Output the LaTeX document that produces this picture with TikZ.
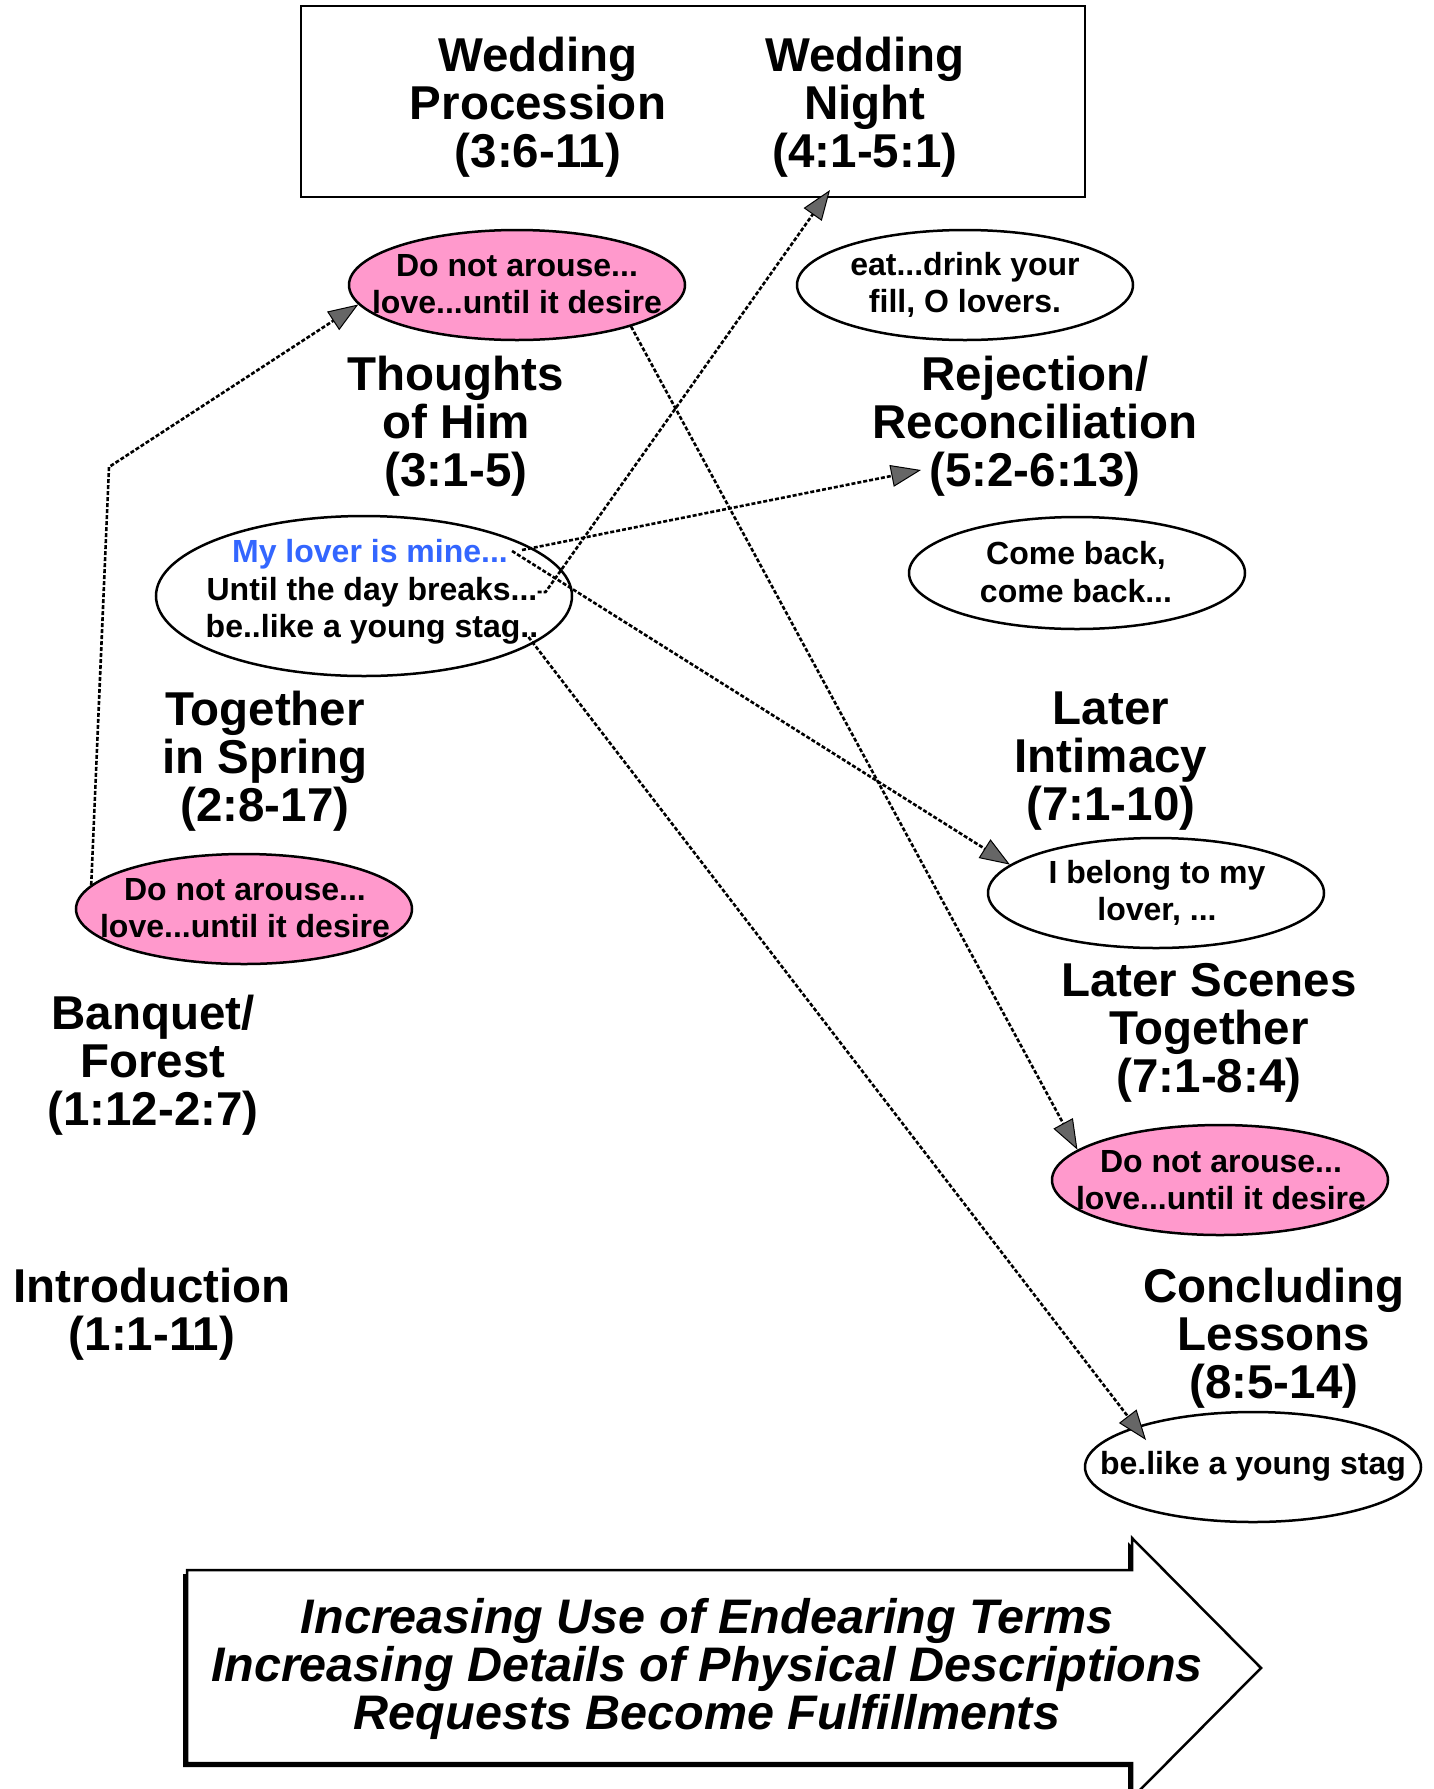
\documentclass[tikz,border=0pt]{standalone}
\usepackage{fontspec}
\setmainfont{Liberation Sans}
\usetikzlibrary{shapes.geometric,arrows.meta}
\definecolor{pinkfill}{RGB}{255,153,204}
\definecolor{bluetext}{RGB}{51,102,255}
\tikzset{
  ttl/.style={font=\bfseries\fontsize{47.5}{48}\selectfont, align=center, inner sep=0pt},
  oval/.style={ellipse, draw, line width=2.5pt, minimum width=336pt, minimum height=110pt, inner sep=0pt},
  pinkoval/.style={oval, fill=pinkfill},
  ovaltext/.style={font=\bfseries\fontsize{32}{37.6}\selectfont, align=center, inner sep=0pt},
  conn/.style={line width=2.6pt, dash pattern=on 4pt off 2pt,
    -{Triangle[length=30pt,width=22pt,fill=black!60,line width=1pt]}},
}
\begin{document}
\begin{tikzpicture}[x=1pt,y=-1pt]
\useasboundingbox (0,0) rectangle (1434,1789);
\fill[white] (0,0) rectangle (1434,1789);

% top box
\node[draw, line width=2.5pt, minimum width=784pt, minimum height=191pt, inner sep=0pt] (box) at (693,101.5) {};
\node[ttl] (WP) at (538,107) {Wedding\\Procession\\(3:6-11)};
\node[ttl] (WN) at (865,107) {Wedding\\Night\\(4:1-5:1)};

% section titles
\node[ttl] (TH) at (456,426) {Thoughts\\of Him\\(3:1-5)};
\node[ttl] (RR) at (1035,426) {Rejection/\\Reconciliation\\(5:2-6:13)};
\node[ttl] (TS) at (265,761) {Together\\in Spring\\(2:8-17)};
\node[ttl] (LI) at (1111,761) {Later\\Intimacy\\(7:1-10)};
\node[ttl] (BF) at (153,1065) {Banquet/\\Forest\\(1:12-2:7)};
\node[ttl] (LS) at (1209,1033) {Later Scenes\\Together\\(7:1-8:4)};
\node[ttl] (IN) at (152,1314) {Introduction\\(1:1-11)};
\node[ttl] (CL) at (1274,1338) {Concluding\\Lessons\\(8:5-14)};

% ellipses
\node[pinkoval] (A) at (517,285) {};
\node[ovaltext] (At) at (517,284) {Do not arouse...\\love...until it desire};
\node[oval] (B) at (965,285) {};
\node[ovaltext] (Bt) at (965,285) {eat...drink your\\fill, O lovers.};
\node[oval, minimum width=416pt, minimum height=160pt] (C) at (364,596) {};
\node[ovaltext, text=bluetext] (C1) at (370,554) {My lover is mine...};
\node[ovaltext] (C2) at (372,592) {Until the day breaks...};
\node[ovaltext] (C3) at (372,629) {be..like a young stag..};
\node[oval, minimum height=112pt] (D) at (1077,573) {};
\node[ovaltext] (Dt) at (1076,572) {Come back,\\come back...};
\node[oval] (E) at (1156,893) {};
\node[ovaltext] (Et) at (1157,893) {I belong to my\\lover, ...};
\node[pinkoval] (F) at (244,909) {};
\node[ovaltext] (Ft) at (245,908) {Do not arouse...\\love...until it desire};
\node[pinkoval] (G) at (1220,1180) {};
\node[ovaltext] (Gt) at (1221,1180) {Do not arouse...\\love...until it desire};
\node[oval] (H) at (1253,1467) {};
\node[ovaltext] (Ht) at (1253,1466) {be.like a young stag};

% connector end points
\coordinate (bend1) at (109,467);
\coordinate (WNin) at (830,190);
\coordinate (RRin) at (921,470);
\coordinate (Hin) at (1146,1440);

% connectors
\draw[conn] (F.171) -- (bend1) -- (A.187);
\draw[conn] (C2.east) -- ++(8,0) -- (WNin);
\draw[conn] ([xshift=14pt,yshift=4pt]C1.east) -- (RRin);
\draw[conn] ([xshift=4pt,yshift=3pt]C1.east) -- (E.169);
\draw[conn] ([xshift=-10pt,yshift=-8pt]C3.east) -- (Hin);
\draw[conn] (A.-20) -- (G.168);

% bottom arrow
\fill[black] (183,1574) -- (1128,1574) -- (1128,1542) -- (1257,1672) -- (1128,1802) -- (1128,1767) -- (183,1767) -- cycle;
\draw[line width=2.5pt, fill=white] (187,1570) -- (1132,1570) -- (1132,1538) -- (1261,1668) -- (1132,1798) -- (1132,1763) -- (187,1763) -- cycle;
\node[font=\bfseries\itshape\fontsize{48.5}{48}\selectfont, align=center, inner sep=0pt] (AT) at (707,1669)
  {Increasing Use of Endearing Terms\\Increasing Details of Physical Descriptions\\Requests Become Fulfillments};
\end{tikzpicture}
\end{document}
